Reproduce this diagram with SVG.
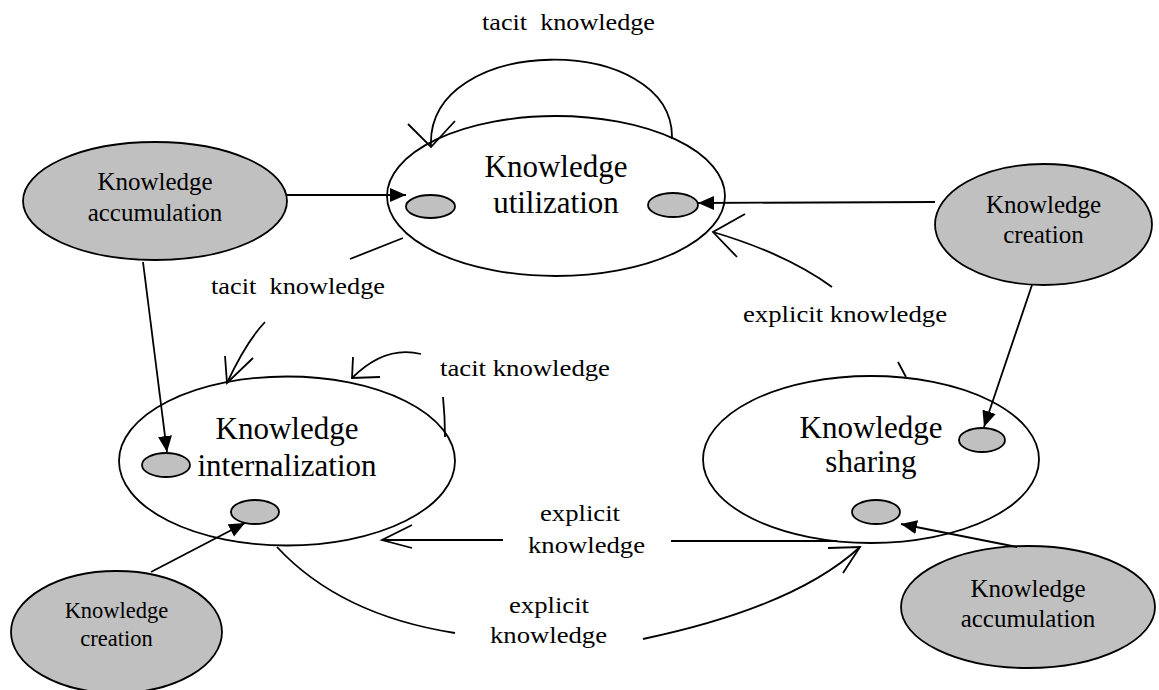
<svg xmlns="http://www.w3.org/2000/svg" width="1159" height="690" viewBox="0 0 1159 690">
<style>
.big{fill:#fff;stroke:#000;stroke-width:1.8}
.gray{fill:#c0c0c0;stroke:#000;stroke-width:1.8}
.dot{fill:#c0c0c0;stroke:#000;stroke-width:1.8}
.ln{fill:none;stroke:#000;stroke-width:1.8}
.t{font-family:"Liberation Serif","Times New Roman",serif;fill:#000;text-anchor:middle}
.n1{font-size:31px}
.n2{font-size:25px}
.n3{font-size:22.5px}
.lb{font-size:24px}
</style>
<defs>
<marker id="fa" markerUnits="userSpaceOnUse" markerWidth="17" markerHeight="15" refX="16" refY="7" orient="auto">
<path d="M0,0 L16,7 L0,14 z" fill="#000"/>
</marker>
</defs>
<rect width="1159" height="690" fill="#fff"/>
<g id="utilization">
<ellipse class="big" cx="556" cy="196" rx="169" ry="80"/>
<text class="t n1" x="556" y="177">Knowledge</text>
<text class="t n1" x="556" y="213">utilization</text>
<ellipse class="dot" cx="430.5" cy="206.5" rx="24.5" ry="11.5"/>
<ellipse class="dot" cx="673" cy="205" rx="25" ry="12"/>
</g>
<g id="internalization">
<ellipse class="big" cx="287" cy="461" rx="168" ry="84.5"/>
<text class="t n1" x="287" y="439">Knowledge</text>
<text class="t n1" x="287" y="476">internalization</text>
<ellipse class="dot" cx="166" cy="465" rx="24" ry="12"/>
<ellipse class="dot" cx="255" cy="512" rx="24" ry="12"/>
</g>
<g id="sharing">
<ellipse class="big" cx="871" cy="459.5" rx="168" ry="83.5"/>
<text class="t n1" x="871" y="438">Knowledge</text>
<text class="t n1" x="871" y="472">sharing</text>
<ellipse class="dot" cx="982" cy="440" rx="23" ry="12"/>
<ellipse class="dot" cx="876" cy="512" rx="24" ry="12"/>
</g>
<g id="accumulation-top">
<ellipse class="gray" cx="155" cy="201" rx="132" ry="59"/>
<text class="t n2" x="155" y="190">Knowledge</text>
<text class="t n2" x="155" y="221">accumulation</text>
</g>
<g id="creation-top">
<ellipse class="gray" cx="1043.5" cy="224.5" rx="108.5" ry="60.5"/>
<text class="t n2" x="1043.5" y="213">Knowledge</text>
<text class="t n2" x="1043.5" y="243">creation</text>
</g>
<g id="accumulation-bottom">
<ellipse class="gray" cx="1028" cy="607" rx="127" ry="61"/>
<text class="t n2" x="1028" y="597">Knowledge</text>
<text class="t n2" x="1028" y="627">accumulation</text>
</g>
<g id="creation-bottom">
<ellipse class="gray" cx="116.5" cy="632" rx="105.5" ry="61"/>
<text class="t n3" x="116.5" y="618">Knowledge</text>
<text class="t n3" x="116.5" y="646">creation</text>
</g>
<g id="connectors">
<line class="ln" x1="287" y1="195" x2="406" y2="195" marker-end="url(#fa)"/>
<line class="ln" x1="143" y1="262" x2="167" y2="452" marker-end="url(#fa)"/>
<line class="ln" x1="151" y1="572" x2="245" y2="523" marker-end="url(#fa)"/>
<line class="ln" x1="935" y1="202" x2="698" y2="203" marker-end="url(#fa)"/>
<line class="ln" x1="1032" y1="285" x2="984" y2="427" marker-end="url(#fa)"/>
<line class="ln" x1="1017" y1="547" x2="901" y2="524" marker-end="url(#fa)"/>
<path class="ln" d="M672,139 C675,32 425,32 431,147"/>
<polyline class="ln" points="408,124 431,147 455,121"/>
<line class="ln" x1="403" y1="238" x2="350" y2="259"/>
<path class="ln" d="M265,322 Q246,342 227,383"/>
<polyline class="ln" points="225,356 227,383 253,358"/>
<path class="ln" d="M352,378 Q385,345 421,354"/>
<polyline class="ln" points="353,357 352,378 380,377"/>
<path class="ln" d="M443,397 Q445,417 445,437"/>
<line class="ln" x1="898" y1="362" x2="906" y2="377"/>
<path class="ln" d="M832,287 Q787,254 713,232"/>
<polyline class="ln" points="745,214 713,232 737,257"/>
<line class="ln" x1="382" y1="540" x2="503" y2="540"/>
<line class="ln" x1="671" y1="541" x2="837" y2="541"/>
<polyline class="ln" points="412,525 382,540 412,548"/>
<path class="ln" d="M277,547 Q340,615 455,633"/>
<path class="ln" d="M643,639 Q795,607 860,547"/>
<polyline class="ln" points="828,548 860,547 843,573"/>
</g>
<g id="labels">
<text class="t lb" x="568.5" y="30" textLength="173" lengthAdjust="spacingAndGlyphs" xml:space="preserve">tacit  knowledge</text>
<text class="t lb" x="298" y="294" textLength="174" lengthAdjust="spacingAndGlyphs" xml:space="preserve">tacit  knowledge</text>
<text class="t lb" x="525" y="376" textLength="170" lengthAdjust="spacingAndGlyphs">tacit knowledge</text>
<text class="t lb" x="845" y="322" textLength="204" lengthAdjust="spacingAndGlyphs">explicit knowledge</text>
<text class="t lb" x="580" y="521" textLength="80" lengthAdjust="spacingAndGlyphs">explicit</text>
<text class="t lb" x="586.5" y="553" textLength="117" lengthAdjust="spacingAndGlyphs">knowledge</text>
<text class="t lb" x="549" y="613" textLength="80" lengthAdjust="spacingAndGlyphs">explicit</text>
<text class="t lb" x="548.5" y="643" textLength="117" lengthAdjust="spacingAndGlyphs">knowledge</text>
</g>
</svg>
